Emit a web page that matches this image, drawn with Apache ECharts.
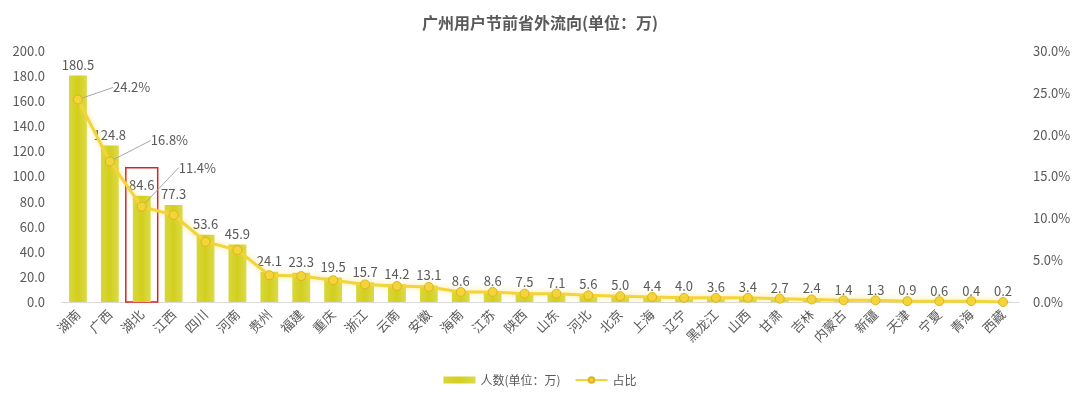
<!DOCTYPE html>
<html lang="zh">
<head>
<meta charset="UTF-8">
<title>广州用户节前省外流向</title>
<script src="https://cdn.jsdelivr.net/npm/echarts@6.0.0/dist/echarts.min.js"></script>
<style>
  html, body { margin: 0; padding: 0; background: #fff; }
  #chart { width: 1080px; height: 401px; }
</style>
</head>
<body>
<div id="chart"></div>
<script>
  const provinces = ['湖南', '广西', '湖北', '江西', '四川', '河南', '贵州', '福建', '重庆', '浙江',
    '云南', '安徽', '海南', '江苏', '陕西', '山东', '河北', '北京', '上海', '辽宁',
    '黑龙江', '山西', '甘肃', '吉林', '内蒙古', '新疆', '天津', '宁夏', '青海', '西藏'];
  const people = [180.5, 124.8, 84.6, 77.3, 53.6, 45.9, 24.1, 23.3, 19.5, 15.7,
    14.2, 13.1, 8.6, 8.6, 7.5, 7.1, 5.6, 5.0, 4.4, 4.0,
    3.6, 3.4, 2.7, 2.4, 1.4, 1.3, 0.9, 0.6, 0.4, 0.2];
  // 占比 (%)，只有前三个在图上标注
  const share = [24.2, 16.8, 11.4, 10.4, 7.2, 6.2, 3.2, 3.1, 2.6, 2.1,
    1.9, 1.8, 1.2, 1.2, 1.0, 1.0, 0.8, 0.7, 0.6, 0.5,
    0.5, 0.5, 0.4, 0.3, 0.2, 0.2, 0.1, 0.1, 0.1, 0.0];
  const shareLabelShift = [[25, -12], [31, -21], [27, -39]];  // 标签引线偏移
  const highlighted = '湖北';

  const textColor = '#595959';
  const font = '"Noto Sans CJK SC", "Noto Sans", sans-serif';

  const chart = echarts.init(document.getElementById('chart'));
  chart.setOption({
    animation: false,
    title: {
      text: '广州用户节前省外流向(单位：万)',
      left: 'center',
      top: 10,
      textStyle: { fontSize: 16, fontWeight: 'bold', color: textColor, fontFamily: font }
    },
    grid: { left: 62, right: 61, top: 51, bottom: 99 },
    legend: {
      bottom: 10,
      left: 'center',
      itemGap: 14,
      itemWidth: 32,
      itemHeight: 7,
      textStyle: { color: textColor, fontSize: 12, fontFamily: font },
      data: [
        { name: '人数(单位：万)', icon: 'rect' },
        { name: '占比' }
      ]
    },
    xAxis: {
      type: 'category',
      data: provinces,
      axisTick: { show: false },
      axisLine: { lineStyle: { color: '#d9d9d9' } },
      axisLabel: { rotate: 45, color: textColor, fontSize: 13, fontFamily: font, interval: 0, margin: 10 }
    },
    yAxis: [
      {
        type: 'value', min: 0, max: 200, interval: 20,
        splitLine: { show: false },
        axisLabel: { color: textColor, fontSize: 13, fontFamily: font, formatter: v => v.toFixed(1), margin: 17 }
      },
      {
        type: 'value', min: 0, max: 30, interval: 5,
        splitLine: { show: false },
        axisLabel: { color: textColor, fontSize: 13, fontFamily: font, formatter: v => v.toFixed(1) + '%', margin: 14 }
      }
    ],
    series: [
      {
        name: '人数(单位：万)',
        type: 'bar',
        data: people,
        barWidth: '56%',
        itemStyle: {
          color: new echarts.graphic.LinearGradient(0, 0, 1, 0, [
            { offset: 0, color: '#d9d73a' },
            { offset: 0.5, color: '#d2cf1e' },
            { offset: 1, color: '#dcda4a' }
          ])
        },
        label: {
          show: true, position: 'top', distance: 4,
          color: textColor, fontSize: 13, fontFamily: font,
          formatter: p => p.value.toFixed(1)
        },
        markArea: {
          silent: true,
          itemStyle: { color: 'rgba(0,0,0,0)', borderColor: '#e02020', borderWidth: 1.5 },
          data: [[{ xAxis: highlighted, yAxis: 0 }, { xAxis: highlighted, yAxis: 107 }]]
        }
      },
      {
        name: '占比',
        type: 'line',
        yAxisIndex: 1,
        data: share.map((v, i) => i < 3 ? { value: v, label: { show: true } } : v),
        symbol: 'circle',
        symbolSize: 9,
        lineStyle: {
          color: '#f3d43a', width: 3,
          shadowColor: 'rgba(245, 215, 60, 0.6)', shadowBlur: 6
        },
        itemStyle: { color: '#f3d43a', borderColor: '#dcb41e', borderWidth: 1 },
        label: {
          show: false, position: 'right', distance: 5,
          color: textColor, fontSize: 13, fontFamily: font,
          formatter: p => p.value.toFixed(1) + '%'
        },
        labelLine: { show: true, lineStyle: { color: '#a6a6a6', width: 1 } },
        labelLayout: p => {
          const s = shareLabelShift[p.dataIndex];
          return s ? { dx: s[0], dy: s[1] } : {};
        },
        z: 3
      }
    ]
  });
</script>
</body>
</html>
